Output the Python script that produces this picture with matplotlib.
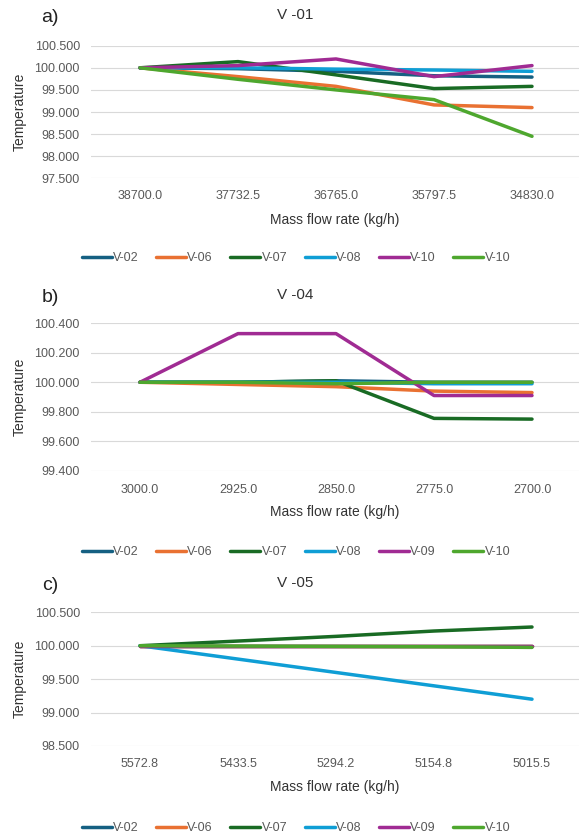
import matplotlib
matplotlib.use('Agg')
import matplotlib.pyplot as plt
import numpy as np

plt.rcParams['font.family'] = ['Liberation Sans', 'DejaVu Sans']

# Office theme colours, in series order.
COLORS = ['#156082', '#E97132', '#196B24', '#0F9ED5', '#A02B93', '#4EA72E']
GREY_TXT = '#595959'

# Panel a) V-01
a_flow = ['38700.0', '37732.5', '36765.0', '35797.5', '34830.0']
a_names = ['V-02', 'V-06', 'V-07', 'V-08', 'V-10', 'V-10']
a_v02 = [100.0, 99.98, 99.92, 99.82, 99.79]
a_v06 = [100.0, 99.80, 99.58, 99.16, 99.10]
a_v07 = [100.0, 100.14, 99.84, 99.53, 99.58]
a_v08 = [100.0, 100.0, 99.97, 99.95, 99.92]
a_v10a = [100.0, 100.05, 100.20, 99.80, 100.05]
a_v10b = [100.0, 99.74, 99.50, 99.28, 98.45]

# Panel b) V-04
b_flow = ['3000.0', '2925.0', '2850.0', '2775.0', '2700.0']
b_names = ['V-02', 'V-06', 'V-07', 'V-08', 'V-09', 'V-10']
b_v02 = [100.0, 100.0, 100.01, 100.0, 100.0]
b_v06 = [100.0, 99.985, 99.97, 99.94, 99.93]
b_v07 = [100.0, 100.0, 100.01, 99.755, 99.75]
b_v08 = [100.0, 100.0, 100.0, 99.99, 99.99]
b_v09 = [100.0, 100.33, 100.33, 99.91, 99.91]
b_v10 = [100.0, 100.0, 99.99, 100.0, 100.0]

# Panel c) V-05
c_flow = ['5572.8', '5433.5', '5294.2', '5154.8', '5015.5']
c_names = ['V-02', 'V-06', 'V-07', 'V-08', 'V-09', 'V-10']
c_v02 = [100.0, 100.0, 100.0, 100.0, 100.0]
c_v06 = [100.0, 100.0, 100.0, 100.0, 100.0]
c_v07 = [100.0, 100.07, 100.14, 100.22, 100.28]
c_v08 = [100.0, 99.80, 99.60, 99.40, 99.20]
c_v09 = [100.0, 100.0, 100.0, 100.0, 100.0]
c_v10 = [100.0, 99.995, 99.99, 99.985, 99.975]

W, H = 579, 835


def px(x, y):
    return x / W, 1 - y / H


def panel(fig, top, bottom, letter, title, flow, names, series, yticks,
          title_y, tick_y, xlabel_y, legend_y):
    left, right = 91, 579
    ax = fig.add_axes([left / W, 1 - bottom / H, (right - left) / W,
                       (bottom - top) / H])
    x = np.arange(len(flow))
    for s, name, c in zip(series, names, COLORS):
        ax.plot(x, s, color=c, lw=2.5, label=name, solid_capstyle='round',
                solid_joinstyle='round', clip_on=False)
    ax.set_xlim(-0.5, (right - 140) / 98)
    ax.set_ylim(yticks[0], yticks[-1])
    ax.set_yticks(yticks)
    ax.set_yticklabels([f'{v:.3f}' for v in yticks])
    ax.set_xticks(x)
    ax.set_xticklabels(flow)
    ax.tick_params(axis='both', length=0, labelsize=9, colors=GREY_TXT)
    ax.tick_params(axis='y', pad=8)
    ax.tick_params(axis='x', pad=(tick_y - bottom - 5) * 0.72)
    ax.grid(axis='y', color='#D9D9D9', lw=0.8)
    ax.set_axisbelow(True)
    for sp in ax.spines.values():
        sp.set_visible(False)

    fig.text(*px(50, title_y + 3), letter, fontsize=14, color='#222222',
             ha='center', va='center')
    fig.text(*px(295, title_y), title, fontsize=11, color='#333333',
             ha='center', va='center')
    fig.text(*px(335, xlabel_y), 'Mass flow rate (kg/h)', fontsize=10,
             color='#333333', ha='center', va='center')
    fig.text(*px(20, (top + bottom) / 2), 'Temperature', fontsize=10,
             color='#333333', ha='center', va='center', rotation=90)
    handles, labels = ax.get_legend_handles_labels()
    fig.legend(handles, labels, loc='center', ncol=6, frameon=False,
               bbox_to_anchor=px(296, legend_y), fontsize=9,
               handlelength=2.4, handletextpad=0.1, columnspacing=1.4,
               labelcolor=GREY_TXT)


fig = plt.figure(figsize=(W / 100, H / 100), dpi=100)

panel(fig, 45.7, 178.3, 'a)', 'V -01', a_flow, a_names,
      [a_v02, a_v06, a_v07, a_v08, a_v10a, a_v10b],
      [97.5, 98.0, 98.5, 99.0, 99.5, 100.0, 100.5],
      title_y=15, tick_y=195, xlabel_y=220, legend_y=258)
panel(fig, 323.3, 470.7, 'b)', 'V -04', b_flow, b_names,
      [b_v02, b_v06, b_v07, b_v08, b_v09, b_v10],
      [99.4, 99.6, 99.8, 100.0, 100.2, 100.4],
      title_y=295, tick_y=489, xlabel_y=512, legend_y=552)
panel(fig, 612.3, 746.0, 'c)', 'V -05', c_flow, c_names,
      [c_v02, c_v06, c_v07, c_v08, c_v09, c_v10],
      [98.5, 99.0, 99.5, 100.0, 100.5],
      title_y=583, tick_y=763, xlabel_y=787, legend_y=828)

fig.savefig('out.png', dpi=100, facecolor='white')
